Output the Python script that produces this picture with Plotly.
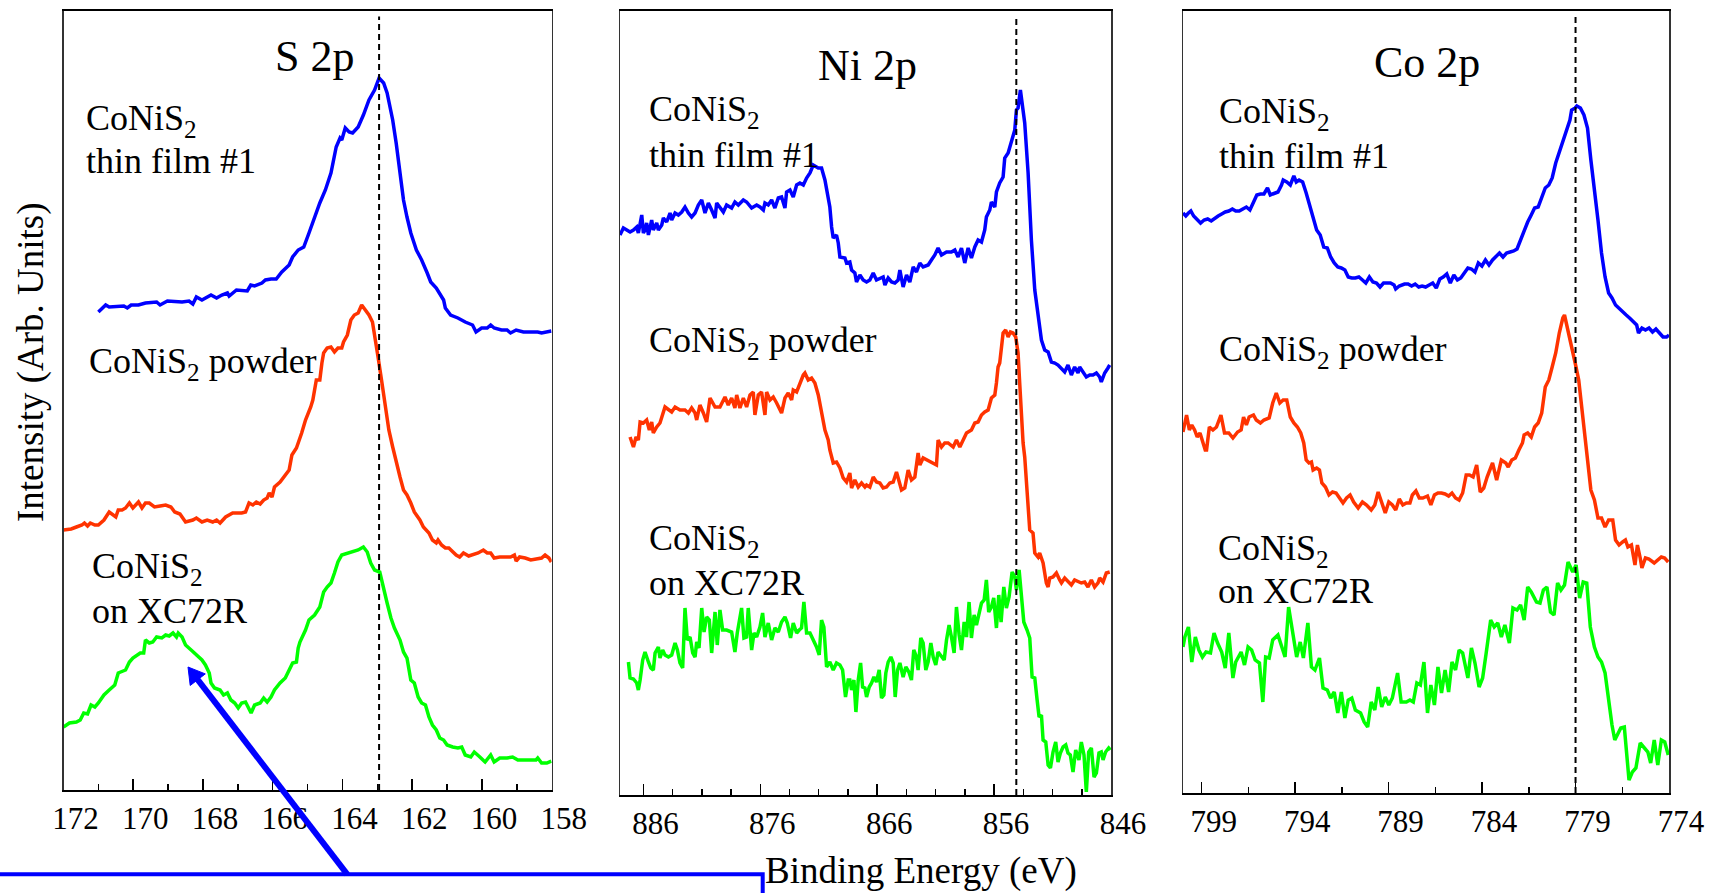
import math
import plotly.graph_objects as go

W, H = 1710, 893
SERIF = "Liberation Serif, Times New Roman, serif"
BLUE, RED, GREEN = "#0000FF", "#FF3300", "#00FF00"

# ---------------- axis data ----------------
S_RANGE = [172, 158]
NI_RANGE = [888, 846]
CO_RANGE = [800, 774]
S_TICKS = [172, 170, 168, 166, 164, 162, 160, 158]
NI_TICKS = [886, 876, 866, 856, 846]
CO_TICKS = [799, 794, 789, 784, 779, 774]
REF_LINES = [162.95, 854.1, 779.0]   # dashed reference energies (eV)
PANEL_TITLES = ["S 2p", "Ni 2p", "Co 2p"]

# ---------------- S 2p ----------------
S_E_film = [171.00, 170.79, 170.69, 170.27, 170.17, 170.06, 169.85, 169.65, 169.33, 169.23,
            169.02, 168.60, 168.40, 168.29, 168.19, 168.03, 167.77, 167.61, 167.46, 167.30,
            167.25, 167.04, 166.73, 166.63, 166.52, 166.31, 166.21, 166.05, 165.90, 165.74,
            165.53, 165.43, 165.27, 165.11, 164.96, 164.80, 164.65, 164.49, 164.33, 164.18,
            164.07, 164.02, 163.92, 163.81, 163.71, 163.55, 163.40, 163.24, 163.08, 162.95,
            162.82, 162.72, 162.56, 162.46, 162.35, 162.25, 162.15, 162.04, 161.88, 161.73,
            161.57, 161.47, 161.31, 161.10, 161.05, 160.90, 160.69, 160.48, 160.27, 160.17,
            160.01, 159.85, 159.75, 159.65, 159.44, 159.28, 159.18, 159.02, 158.81, 158.60,
            158.40, 158.29, 158.01]
S_I_film = [478, 485, 483, 484, 482, 485, 485, 487, 488, 485,
            489, 488, 489, 486, 493, 490, 495, 492, 495, 497,
            494, 500, 499, 505, 504, 507, 510, 511, 511, 518,
            525, 533, 540, 543, 557, 573, 587, 600, 617, 643,
            652, 650, 662, 658, 657, 663, 675, 690, 700, 712,
            707, 697, 670, 647, 617, 590, 573, 557, 540, 530,
            517, 508, 502, 490, 482, 475, 472, 468, 465, 458,
            462, 462, 465, 462, 460, 460, 457, 460, 458, 458,
            458, 457, 459]

S_E_powder = [172.00, 171.78, 171.63, 171.47, 171.40, 171.31, 171.23, 171.10, 171.00, 170.84,
              170.69, 170.58, 170.50, 170.43, 170.32, 170.22, 170.11, 170.01, 169.85, 169.75,
              169.65, 169.54, 169.39, 169.23, 169.07, 168.92, 168.81, 168.66, 168.50, 168.29,
              168.19, 168.03, 167.88, 167.72, 167.61, 167.51, 167.35, 167.15, 166.89, 166.78,
              166.68, 166.57, 166.47, 166.36, 166.26, 166.16, 166.10, 166.02, 165.95, 165.79,
              165.64, 165.53, 165.45, 165.32, 165.17, 165.06, 164.91, 164.85, 164.75, 164.65,
              164.59, 164.54, 164.44, 164.33, 164.23, 164.13, 164.02, 163.97, 163.86, 163.76,
              163.66, 163.55, 163.45, 163.34, 163.24, 163.14, 163.03, 162.98, 162.88, 162.77,
              162.67, 162.56, 162.46, 162.35, 162.25, 162.15, 162.04, 161.94, 161.78, 161.68,
              161.52, 161.42, 161.31, 161.26, 161.16, 161.05, 160.95, 160.84, 160.74, 160.64,
              160.53, 160.38, 160.27, 160.11, 159.96, 159.85, 159.75, 159.65, 159.49, 159.33,
              159.18, 159.07, 159.02, 158.92, 158.76, 158.60, 158.45, 158.29, 158.19, 158.08,
              158.01]
S_I_powder = [260, 261, 263, 265, 267, 264, 267, 265, 265, 270,
              278, 275, 273, 280, 280, 282, 287, 282, 288, 282,
              287, 287, 283, 284, 285, 283, 278, 276, 268, 270,
              272, 268, 270, 268, 270, 267, 273, 277, 277, 278,
              287, 285, 288, 286, 290, 292, 297, 293, 303, 308,
              315, 320, 335, 342, 357, 370, 383, 390, 410, 410,
              427, 437, 442, 443, 438, 442, 442, 448, 455, 470,
              475, 477, 485, 480, 475, 468, 447, 433, 410, 383,
              360, 343, 327, 313, 300, 295, 287, 278, 270, 263,
              257, 250, 247, 250, 245, 242, 242, 238, 235, 233,
              237, 234, 235, 237, 240, 237, 237, 232, 233, 233,
              233, 235, 229, 233, 232, 230, 231, 232, 235, 232,
              228]

S_E_xc72r = [172.00, 171.83, 171.63, 171.52, 171.42, 171.31, 171.21, 171.10, 171.00, 170.84,
             170.69, 170.53, 170.43, 170.32, 170.22, 170.11, 170.01, 169.80, 169.70, 169.65,
             169.54, 169.44, 169.33, 169.18, 169.07, 168.97, 168.86, 168.76, 168.71, 168.60,
             168.50, 168.34, 168.19, 168.03, 167.93, 167.82, 167.77, 167.67, 167.51, 167.41,
             167.30, 167.20, 167.09, 166.99, 166.89, 166.78, 166.62, 166.52, 166.36, 166.26,
             166.16, 166.05, 165.95, 165.79, 165.64, 165.53, 165.43, 165.32, 165.27, 165.22,
             165.06, 164.96, 164.80, 164.65, 164.54, 164.44, 164.33, 164.23, 164.13, 164.02,
             163.86, 163.71, 163.55, 163.40, 163.29, 163.19, 163.08, 162.93, 162.82, 162.72,
             162.61, 162.51, 162.35, 162.25, 162.15, 162.04, 161.94, 161.83, 161.73, 161.62,
             161.52, 161.42, 161.31, 161.21, 161.10, 161.00, 160.84, 160.69, 160.58, 160.48,
             160.32, 160.22, 160.06, 159.91, 159.75, 159.65, 159.49, 159.28, 159.12, 158.97,
             158.76, 158.60, 158.45, 158.40, 158.29, 158.14, 158.01]
S_I_xc72r = [63, 67, 68, 70, 77, 76, 85, 83, 87, 95,
             100, 105, 117, 119, 120, 128, 132, 137, 137, 150,
             147, 148, 153, 152, 155, 154, 157, 153, 157, 153,
             145, 140, 135, 130, 125, 117, 107, 102, 100, 95,
             97, 90, 87, 82, 87, 88, 77, 85, 87, 92,
             88, 93, 100, 107, 112, 120, 127, 128, 142, 148,
             160, 170, 175, 183, 198, 203, 207, 217, 228, 235,
             237, 238, 240, 243, 238, 227, 220, 218, 200, 187,
             172, 162, 150, 138, 132, 110, 107, 93, 87, 85,
             73, 65, 60, 52, 50, 45, 43, 42, 43, 35,
             33, 38, 33, 28, 35, 28, 32, 32, 33, 30,
             30, 30, 30, 32, 27, 27, 29]

# ---------------- Ni 2p ----------------
NI_E_film = [888.00, 887.71, 887.42, 887.14, 886.85, 886.57, 886.43, 886.28, 886.14, 886.00,
             885.86, 885.72, 885.57, 885.29, 885.15, 884.86, 884.72, 884.43, 884.29, 884.01,
             883.72, 883.58, 883.29, 883.01, 882.72, 882.44, 882.15, 881.87, 881.58, 881.30,
             881.01, 880.73, 880.44, 880.16, 879.87, 879.73, 879.45, 879.16, 878.88, 878.45,
             878.17, 877.88, 877.45, 877.17, 876.74, 876.31, 876.03, 875.74, 875.60, 875.32,
             875.03, 874.75, 874.46, 874.18, 873.89, 873.75, 873.46, 873.18, 872.89, 872.61,
             872.32, 872.04, 871.75, 871.47, 871.04, 870.76, 870.47, 870.19, 870.05, 869.90,
             869.76, 869.48, 869.33, 869.19, 868.76, 868.62, 868.34, 868.19, 867.91, 867.77,
             867.48, 867.20, 866.91, 866.63, 866.34, 866.06, 865.77, 865.49, 865.34, 865.06,
             864.77, 864.49, 864.21, 864.06, 863.78, 863.49, 863.21, 862.92, 862.64, 862.35,
             862.07, 861.64, 861.36, 861.07, 860.79, 860.50, 860.07, 859.65, 859.36, 859.08,
             858.79, 858.51, 858.22, 857.94, 857.65, 857.37, 857.08, 856.80, 856.66, 856.37,
             856.23, 855.94, 855.80, 855.52, 855.23, 855.09, 854.80, 854.52, 854.23, 854.09,
             853.95, 853.75, 853.58, 853.38, 853.09, 852.81, 852.52, 852.24, 851.95, 851.67,
             851.38, 851.10, 850.81, 850.53, 850.24, 849.96, 849.68, 849.39, 849.11, 848.82,
             848.68, 848.39, 848.11, 847.82, 847.54, 847.25, 846.97, 846.83, 846.54, 846.26,
             846.11]
NI_I_film = [560, 567, 565, 563, 565, 568, 562, 572, 580, 562,
             565, 572, 560, 575, 565, 572, 565, 570, 577, 573,
             582, 575, 582, 580, 583, 588, 582, 578, 582, 590,
             595, 582, 592, 585, 577, 592, 587, 583, 590, 587,
             593, 590, 595, 593, 587, 590, 588, 585, 592, 590,
             595, 587, 597, 598, 587, 603, 605, 598, 610, 612,
             610, 617, 622, 630, 627, 627, 615, 598, 588, 568,
             557, 560, 552, 538, 537, 532, 533, 525, 522, 513,
             520, 515, 513, 515, 522, 515, 517, 518, 510, 517,
             513, 512, 515, 525, 508, 520, 513, 528, 523, 532,
             528, 530, 535, 540, 547, 540, 543, 543, 545, 538,
             547, 532, 547, 537, 548, 555, 553, 565, 578, 585,
             593, 588, 603, 612, 618, 637, 642, 655, 665, 685,
             687, 705, 688, 672, 622, 555, 505, 478, 455, 445,
             443, 433, 432, 430, 427, 423, 430, 420, 428, 422,
             428, 423, 418, 420, 420, 422, 418, 413, 422, 427,
             430]

NI_E_powder = [887.14, 886.85, 886.63, 886.43, 886.28, 886.00, 885.72, 885.49, 885.29, 885.15,
               884.86, 884.58, 884.15, 883.86, 883.58, 883.29, 882.87, 882.44, 882.15, 881.87,
               881.58, 881.44, 881.16, 880.87, 880.59, 880.30, 879.87, 879.45, 879.02, 878.74,
               878.45, 878.17, 878.02, 877.74, 877.45, 877.17, 876.88, 876.60, 876.46, 876.17,
               875.89, 875.60, 875.46, 875.17, 874.89, 874.60, 874.18, 873.89, 873.61, 873.32,
               873.18, 872.89, 872.61, 872.32, 872.18, 871.90, 871.61, 871.33, 871.04, 870.76,
               870.47, 870.19, 870.05, 869.76, 869.48, 869.19, 868.91, 868.62, 868.34, 868.19,
               867.91, 867.62, 867.34, 867.05, 866.91, 866.63, 866.34, 866.06, 865.77, 865.49,
               865.20, 864.92, 864.63, 864.35, 864.21, 863.92, 863.64, 863.35, 863.07, 862.78,
               862.50, 862.35, 862.07, 861.78, 861.50, 861.21, 860.93, 860.79, 860.50, 860.22,
               859.93, 859.50, 859.22, 858.93, 858.65, 858.36, 857.94, 857.65, 857.37, 857.08,
               856.80, 856.51, 856.23, 855.94, 855.80, 855.66, 855.52, 855.23, 855.01, 854.80,
               854.60, 854.38, 854.15, 853.95, 853.81, 853.66, 853.52, 853.38, 853.24, 853.09,
               852.95, 852.67, 852.52, 852.24, 852.10, 851.81, 851.53, 851.38, 851.24, 850.96,
               850.67, 850.39, 850.24, 849.96, 849.68, 849.39, 849.11, 848.82, 848.54, 848.25,
               847.97, 847.68, 847.40, 847.11, 846.97, 846.68, 846.40, 846.11]
NI_I_powder = [358, 348, 358, 355, 373, 372, 375, 365, 373, 362,
               368, 372, 388, 385, 383, 388, 385, 385, 382, 387,
               382, 375, 390, 382, 373, 397, 388, 388, 398, 390,
               397, 387, 400, 387, 397, 388, 400, 403, 380, 400,
               403, 380, 403, 395, 398, 392, 382, 397, 402, 395,
               405, 403, 412, 420, 422, 415, 417, 412, 400, 382,
               365, 355, 345, 332, 333, 327, 317, 313, 322, 307,
               315, 308, 312, 308, 310, 308, 318, 313, 312, 307,
               308, 312, 313, 323, 317, 305, 307, 325, 315, 318,
               342, 330, 337, 335, 333, 332, 330, 355, 348, 352,
               352, 348, 355, 348, 355, 362, 365, 372, 373, 380,
               383, 385, 397, 400, 412, 428, 432, 462, 465, 458,
               463, 462, 458, 442, 412, 378, 352, 338, 312, 282,
               265, 262, 242, 238, 242, 232, 212, 208, 217, 218,
               222, 215, 212, 217, 213, 210, 215, 213, 212, 213,
               208, 215, 208, 212, 217, 213, 222, 223]

NI_E_xc72r = [887.28, 887.14, 886.85, 886.57, 886.43, 886.28, 886.06, 885.86, 885.57, 885.37,
              885.15, 885.00, 884.72, 884.58, 884.35, 884.15, 883.86, 883.58, 883.29, 883.09,
              882.87, 882.64, 882.44, 882.24, 882.01, 881.78, 881.58, 881.44, 881.24, 881.01,
              880.81, 880.59, 880.36, 880.16, 879.87, 879.68, 879.45, 879.22, 878.88, 878.45,
              878.17, 877.97, 877.60, 877.40, 877.17, 877.03, 876.74, 876.54, 876.31, 876.03,
              875.80, 875.60, 875.32, 875.03, 874.75, 874.46, 874.18, 873.89, 873.69, 873.41,
              873.18, 872.89, 872.67, 872.47, 872.27, 872.04, 871.75, 871.47, 871.19, 870.96,
              870.76, 870.56, 870.33, 870.05, 869.76, 869.48, 869.19, 868.96, 868.71, 868.48,
              868.34, 868.19, 867.99, 867.82, 867.62, 867.42, 867.25, 867.05, 866.91, 866.68,
              866.48, 866.28, 866.06, 865.83, 865.63, 865.43, 865.26, 865.06, 864.83, 864.63,
              864.46, 864.26, 864.06, 863.78, 863.55, 863.29, 863.07, 862.87, 862.64, 862.50,
              862.27, 862.07, 861.84, 861.64, 861.41, 861.21, 860.99, 860.79, 860.50, 860.27,
              860.07, 859.85, 859.65, 859.42, 859.22, 858.99, 858.79, 858.56, 858.36, 858.14,
              857.94, 857.71, 857.51, 857.28, 857.08, 856.85, 856.66, 856.46, 856.23, 856.03,
              855.80, 855.60, 855.40, 855.17, 854.95, 854.72, 854.46, 854.23, 854.09, 853.86,
              853.66, 853.46, 853.18, 852.95, 852.75, 852.52, 852.32, 852.15, 851.95, 851.81,
              851.58, 851.38, 851.18, 850.96, 850.73, 850.53, 850.33, 850.10, 849.87, 849.68,
              849.48, 849.25, 849.02, 848.74, 848.54, 848.31, 848.11, 847.91, 847.68, 847.45,
              847.25, 847.03, 846.83, 846.68, 846.46, 846.20, 846.06]
NI_I_xc72r = [133, 117, 116, 112, 105, 115, 135, 143, 133, 127,
              125, 142, 148, 137, 145, 140, 138, 140, 152, 145,
              132, 127, 187, 155, 158, 142, 138, 153, 147, 187,
              163, 178, 175, 142, 183, 150, 185, 165, 165, 163,
              143, 162, 187, 157, 158, 187, 145, 162, 158, 168,
              182, 158, 172, 155, 167, 163, 173, 178, 172, 157,
              172, 162, 165, 167, 193, 162, 162, 155, 148, 140,
              175, 168, 128, 133, 125, 132, 130, 125, 98, 115,
              115, 105, 115, 83, 115, 132, 108, 107, 98, 108,
              112, 118, 113, 125, 97, 100, 122, 133, 138, 132,
              98, 125, 132, 118, 128, 123, 115, 145, 138, 125,
              157, 152, 125, 133, 152, 138, 130, 143, 138, 135,
              155, 170, 158, 142, 188, 160, 145, 173, 158, 193,
              157, 180, 170, 182, 192, 195, 215, 183, 188, 197,
              167, 200, 173, 208, 187, 198, 223, 218, 205, 225,
              203, 173, 165, 157, 118, 117, 95, 78, 80, 55,
              53, 30, 27, 43, 53, 33, 42, 48, 50, 42,
              40, 23, 45, 35, 53, 40, 3, 43, 47, 18,
              22, 42, 43, 35, 43, 47, 45]

# ---------------- Co 2p ----------------
CO_E_film = [800.00, 799.85, 799.71, 799.58, 799.43, 799.24, 799.06, 798.87, 798.68, 798.49,
             798.30, 798.12, 797.93, 797.74, 797.55, 797.36, 797.18, 796.99, 796.80, 796.61,
             796.42, 796.23, 796.05, 795.86, 795.67, 795.48, 795.33, 795.20, 794.92, 794.73,
             794.64, 794.45, 794.26, 794.07, 793.94, 793.79, 793.60, 793.41, 793.22, 793.04,
             792.85, 792.66, 792.47, 792.28, 792.10, 791.91, 791.72, 791.53, 791.34, 791.16,
             790.97, 790.78, 790.59, 790.40, 790.22, 790.03, 789.84, 789.65, 789.46, 789.27,
             789.09, 788.90, 788.71, 788.62, 788.43, 788.15, 787.96, 787.77, 787.58, 787.39,
             787.21, 787.02, 786.83, 786.64, 786.45, 786.26, 786.08, 785.89, 785.70, 785.51,
             785.32, 785.14, 784.95, 784.76, 784.57, 784.38, 784.20, 784.01, 783.82, 783.63,
             783.44, 783.26, 783.07, 782.88, 782.69, 782.50, 782.31, 782.13, 781.94, 781.75,
             781.56, 781.37, 781.19, 781.00, 780.81, 780.62, 780.43, 780.25, 780.06, 779.87,
             779.68, 779.49, 779.30, 779.21, 779.02, 778.93, 778.74, 778.55, 778.36, 778.18,
             777.99, 777.80, 777.61, 777.42, 777.23, 777.05, 776.86, 776.67, 776.48, 776.29,
             776.11, 775.92, 775.73, 775.63, 775.45, 775.26, 775.07, 774.88, 774.70, 774.51,
             774.32, 774.13, 774.00]
CO_I_film = [580, 577, 580, 582, 577, 573, 570, 573, 574, 572,
             575, 577, 579, 581, 582, 584, 582, 582, 584, 586,
             583, 590, 598, 599, 599, 605, 598, 599, 601, 608,
             613, 611, 608, 617, 611, 613, 611, 600, 588, 575,
             563, 558, 546, 545, 536, 530, 526, 525, 523, 516,
             515, 515, 516, 513, 510, 516, 511, 510, 506, 510,
             510, 510, 508, 504, 507, 509, 509, 507, 509, 506,
             507, 506, 508, 510, 505, 514, 516, 519, 510, 518,
             513, 515, 520, 525, 524, 521, 530, 527, 533, 528,
             533, 536, 540, 536, 540, 541, 542, 544, 553, 563,
             571, 578, 585, 586, 596, 605, 608, 615, 630, 641,
             651, 661, 673, 683, 685, 687, 685, 678, 665, 633,
             606, 573, 540, 516, 500, 495, 488, 485, 481, 478,
             475, 471, 468, 460, 465, 463, 465, 461, 464, 460,
             456, 456, 458]

CO_E_powder = [800.00, 799.81, 799.66, 799.53, 799.38, 799.24, 799.09, 798.96, 798.81, 798.74,
               798.59, 798.40, 798.21, 797.97, 797.78, 797.55, 797.33, 797.08, 796.89, 796.76,
               796.61, 796.46, 796.23, 796.08, 795.86, 795.67, 795.39, 795.20, 795.01, 794.82,
               794.64, 794.45, 794.26, 794.07, 793.88, 793.70, 793.54, 793.41, 793.26, 793.13,
               793.04, 792.85, 792.70, 792.57, 792.38, 792.19, 792.00, 791.81, 791.63, 791.44,
               791.25, 791.06, 790.87, 790.63, 790.40, 790.18, 789.93, 789.74, 789.56, 789.37,
               789.18, 788.99, 788.80, 788.62, 788.43, 788.24, 788.05, 787.86, 787.73, 787.54,
               787.36, 787.17, 786.92, 786.74, 786.55, 786.36, 786.17, 785.98, 785.79, 785.61,
               785.42, 785.23, 785.04, 784.85, 784.67, 784.48, 784.29, 784.10, 783.91, 783.73,
               783.44, 783.22, 782.97, 782.73, 782.60, 782.41, 782.22, 782.03, 781.84, 781.75,
               781.56, 781.37, 781.19, 781.00, 780.81, 780.62, 780.43, 780.25, 780.06, 779.87,
               779.68, 779.59, 779.40, 779.21, 779.02, 778.83, 778.65, 778.46, 778.36, 778.18,
               777.99, 777.80, 777.61, 777.42, 777.23, 777.01, 776.86, 776.67, 776.48, 776.33,
               776.20, 776.01, 775.82, 775.69, 775.54, 775.45, 775.26, 775.07, 774.79, 774.60,
               774.41, 774.23, 774.04]
CO_I_powder = [361, 378, 363, 368, 363, 356, 360, 353, 343, 343,
               366, 363, 366, 378, 360, 360, 355, 361, 363, 376,
               368, 376, 378, 373, 370, 373, 375, 390, 400, 390,
               393, 393, 376, 370, 366, 360, 350, 333, 330, 331,
               323, 325, 323, 310, 306, 298, 301, 300, 295, 290,
               295, 298, 291, 285, 291, 288, 283, 288, 301, 291,
               280, 291, 288, 283, 294, 288, 290, 290, 298, 302,
               295, 295, 297, 288, 298, 300, 300, 299, 297, 300,
               295, 293, 300, 318, 318, 316, 328, 301, 305, 316,
               330, 313, 333, 330, 326, 333, 335, 343, 350, 358,
               360, 356, 366, 370, 380, 406, 413, 426, 440, 460,
               475, 478, 463, 446, 430, 413, 383, 350, 330, 303,
               293, 275, 275, 266, 273, 273, 253, 248, 251, 253,
               246, 248, 228, 248, 235, 225, 235, 234, 230, 233,
               236, 235, 231]

CO_E_xc72r = [800.00, 799.90, 799.71, 799.53, 799.34, 799.15, 798.96, 798.77, 798.53, 798.34,
              798.15, 797.93, 797.74, 797.55, 797.33, 797.18, 796.89, 796.71, 796.52, 796.33,
              796.14, 795.91, 795.73, 795.58, 795.39, 795.20, 794.92, 794.73, 794.54, 794.35,
              794.07, 793.92, 793.73, 793.56, 793.32, 793.13, 792.94, 792.70, 792.51, 792.28,
              792.10, 791.91, 791.72, 791.53, 791.34, 791.16, 790.97, 790.78, 790.50, 790.31,
              790.12, 789.93, 789.74, 789.56, 789.37, 789.18, 788.99, 788.80, 788.52, 788.33,
              788.05, 787.86, 787.68, 787.49, 787.30, 787.11, 786.92, 786.74, 786.55, 786.36,
              786.17, 785.98, 785.79, 785.61, 785.42, 785.23, 785.04, 784.76, 784.57, 784.38,
              784.16, 783.97, 783.78, 783.54, 783.35, 783.16, 782.97, 782.78, 782.54, 782.35,
              782.13, 781.94, 781.75, 781.56, 781.37, 781.09, 780.90, 780.72, 780.53, 780.34,
              780.15, 779.96, 779.78, 779.59, 779.40, 779.15, 778.97, 778.78, 778.59, 778.40,
              778.21, 777.99, 777.80, 777.61, 777.42, 777.23, 777.05, 776.90, 776.77, 776.58,
              776.39, 776.14, 775.96, 775.77, 775.54, 775.32, 775.13, 774.98, 774.79, 774.60,
              774.41, 774.23, 774.04]
CO_I_xc72r = [146, 156, 166, 131, 156, 143, 136, 141, 140, 160,
              150, 141, 125, 160, 115, 131, 141, 128, 146, 143,
              133, 130, 91, 136, 135, 153, 158, 146, 136, 186,
              153, 136, 151, 135, 170, 126, 123, 135, 105, 103,
              95, 101, 80, 101, 75, 93, 95, 83, 80, 71,
              66, 91, 83, 106, 86, 96, 88, 95, 120, 91,
              91, 93, 91, 110, 108, 131, 80, 108, 88, 126,
              100, 123, 101, 131, 123, 143, 140, 115, 145, 130,
              106, 115, 140, 173, 166, 170, 156, 168, 150, 185,
              183, 188, 173, 206, 201, 191, 190, 203, 206, 181,
              178, 210, 203, 208, 231, 221, 228, 195, 211, 210,
              166, 146, 136, 131, 120, 93, 68, 53, 58, 65,
              66, 13, 21, 25, 50, 45, 41, 30, 53, 28,
              53, 51, 38]

# intensity ranges (arb. units) of each panel
S_YRANGE = [0, 779]
NI_YRANGE = [0, 784]
CO_YRANGE = [0, 782]

# ---------------- layout geometry (pixels) ----------------
def px(x):
    return x / W


def py(y):
    return 1 - y / H


PANELS = [
    dict(x0=63.5, x1=551.7, y0=11, y1=790),
    dict(x0=620, x1=1111, y0=11, y1=795),
    dict(x0=1183, x1=1669, y0=11, y1=793),
]

fig = go.Figure()

series = [
    ("x", "y", S_E_film, S_I_film, BLUE),
    ("x", "y", S_E_powder, S_I_powder, RED),
    ("x", "y", S_E_xc72r, S_I_xc72r, GREEN),
    ("x2", "y2", NI_E_film, NI_I_film, BLUE),
    ("x2", "y2", NI_E_powder, NI_I_powder, RED),
    ("x2", "y2", NI_E_xc72r, NI_I_xc72r, GREEN),
    ("x3", "y3", CO_E_film, CO_I_film, BLUE),
    ("x3", "y3", CO_E_powder, CO_I_powder, RED),
    ("x3", "y3", CO_E_xc72r, CO_I_xc72r, GREEN),
]
for xa, ya, ex, iy, col in series:
    n = min(len(ex), len(iy))
    fig.add_trace(go.Scatter(x=ex[:n], y=iy[:n], mode="lines", xaxis=xa, yaxis=ya,
                             line=dict(color=col, width=3.5), showlegend=False,
                             hoverinfo="skip"))

xranges = [S_RANGE, NI_RANGE, CO_RANGE]
yranges = [S_YRANGE, NI_YRANGE, CO_YRANGE]
tickvals = [S_TICKS, NI_TICKS, CO_TICKS]
minor_dt = [1, 2.5, 2.5]

layout = dict(width=W, height=H, margin=dict(l=0, r=0, t=0, b=0, pad=0),
              autosize=False, template="none",
              paper_bgcolor="white", plot_bgcolor="white", showlegend=False)
for i, p in enumerate(PANELS):
    sx = "" if i == 0 else str(i + 1)
    layout["xaxis" + sx] = dict(
        domain=[px(p["x0"]), px(p["x1"])], range=xranges[i], anchor="y" + sx,
        automargin=False,
        tickmode="array", tickvals=tickvals[i], ticks="inside", ticklen=11,
        tickwidth=1.5, tickcolor="black", showline=True, linecolor="black",
        linewidth=2, mirror=True, showgrid=False, zeroline=False,
        tickfont=dict(family=SERIF, size=31, color="black"),
        ticklabelshift=-12, ticklabelstandoff=0,
        minor=dict(dtick=minor_dt[i], tick0=tickvals[i][-1], ticks="inside",
                   ticklen=6, tickwidth=1.5, tickcolor="black", showgrid=False),
    )
    layout["yaxis" + sx] = dict(
        domain=[py(p["y1"]), py(p["y0"])], range=yranges[i], anchor="x" + sx,
        automargin=False,
        showticklabels=False, ticks="", showline=True, linecolor="#333333",
        linewidth=1.5, mirror=True, showgrid=False, zeroline=False,
    )
fig.update_layout(**layout)

# dashed reference lines
for i, e in enumerate(REF_LINES):
    sx = "" if i == 0 else str(i + 1)
    fig.add_shape(type="line", xref="x" + sx, yref="y" + sx + " domain",
                  x0=e, x1=e, y0=0, y1=0.993,
                  line=dict(color="black", width=2, dash="6px,4px"))

ann = []
# panel titles
title_pos = [(314.5, 57), (867, 65), (1427, 62)]
for t, (x, y) in zip(PANEL_TITLES, title_pos):
    ann.append(dict(text=t, x=px(x), y=py(y), xref="paper", yref="paper",
                    xanchor="center", yanchor="middle", showarrow=False,
                    font=dict(family=SERIF, size=44, color="black")))

# sample labels: (x_left, y_middle, text)
labels = [
    (84, 120, "CoNiS<sub>2</sub>"), (84, 161, "thin film #1"),
    (87, 363, "CoNiS<sub>2</sub> powder"),
    (90, 568, "CoNiS<sub>2</sub>"), (90, 611, "on XC72R"),
    (647, 112, "CoNiS<sub>2</sub>"), (647, 155, "thin film #1"),
    (647, 342, "CoNiS<sub>2</sub> powder"),
    (647, 540, "CoNiS<sub>2</sub>"), (647, 583, "on XC72R"),
    (1217, 113, "CoNiS<sub>2</sub>"), (1217, 156, "thin film #1"),
    (1217, 352, "CoNiS<sub>2</sub> powder"),
    (1216, 550, "CoNiS<sub>2</sub>"), (1216, 591, "on XC72R"),
]
for x, y, t in labels:
    ann.append(dict(text=t, x=px(x), y=py(y), xref="paper", yref="paper",
                    xanchor="left", yanchor="middle", showarrow=False,
                    font=dict(family=SERIF, size=36, color="black")))

# axis titles
ann.append(dict(text="Binding Energy (eV)", x=px(921), y=py(871), xref="paper", yref="paper",
                xanchor="center", yanchor="middle", showarrow=False,
                font=dict(family=SERIF, size=37, color="black")))
ann.append(dict(text="Intensity (Arb. Units)", x=px(31), y=py(362), xref="paper", yref="paper",
                xanchor="center", yanchor="middle", showarrow=False, textangle=-90,
                font=dict(family=SERIF, size=37, color="black")))
fig.update_layout(annotations=ann)

# blue pointer arrow (drawn as shapes)
tip = (188.0, 667.0)
tail = (347.3, 874.3)
dx, dy = tail[0] - tip[0], tail[1] - tip[1]
L = math.hypot(dx, dy)
ux, uy = dx / L, dy / L
head_len, head_half = 16.0, 9.5
bx, by = tip[0] + head_len * ux, tip[1] + head_len * uy
c1 = (bx - head_half * uy, by + head_half * ux)
c2 = (bx + head_half * uy, by - head_half * ux)
fig.add_shape(type="line", xref="paper", yref="paper",
              x0=px(tail[0]), y0=py(tail[1]), x1=px(bx - 2 * ux), y1=py(by - 2 * uy),
              line=dict(color=BLUE, width=6))
fig.add_shape(type="path", xref="paper", yref="paper",
              path=(f"M {px(tip[0])},{py(tip[1])} L {px(c1[0])},{py(c1[1])} "
                    f"L {px(c2[0])},{py(c2[1])} Z"),
              fillcolor=BLUE, line=dict(color=BLUE, width=1))

# blue bracket line
fig.add_shape(type="path", xref="paper", yref="paper",
              path=f"M {px(0)},{py(874.3)} L {px(762.7)},{py(874.3)} L {px(762.7)},{py(900)}",
              line=dict(color=BLUE, width=4))

fig.write_html(
    "out.html",
    config={"displayModeBar": False, "staticPlot": True},
    post_script=("document.body.style.margin='0';"
                 "document.documentElement.style.overflow='hidden';"),
)
